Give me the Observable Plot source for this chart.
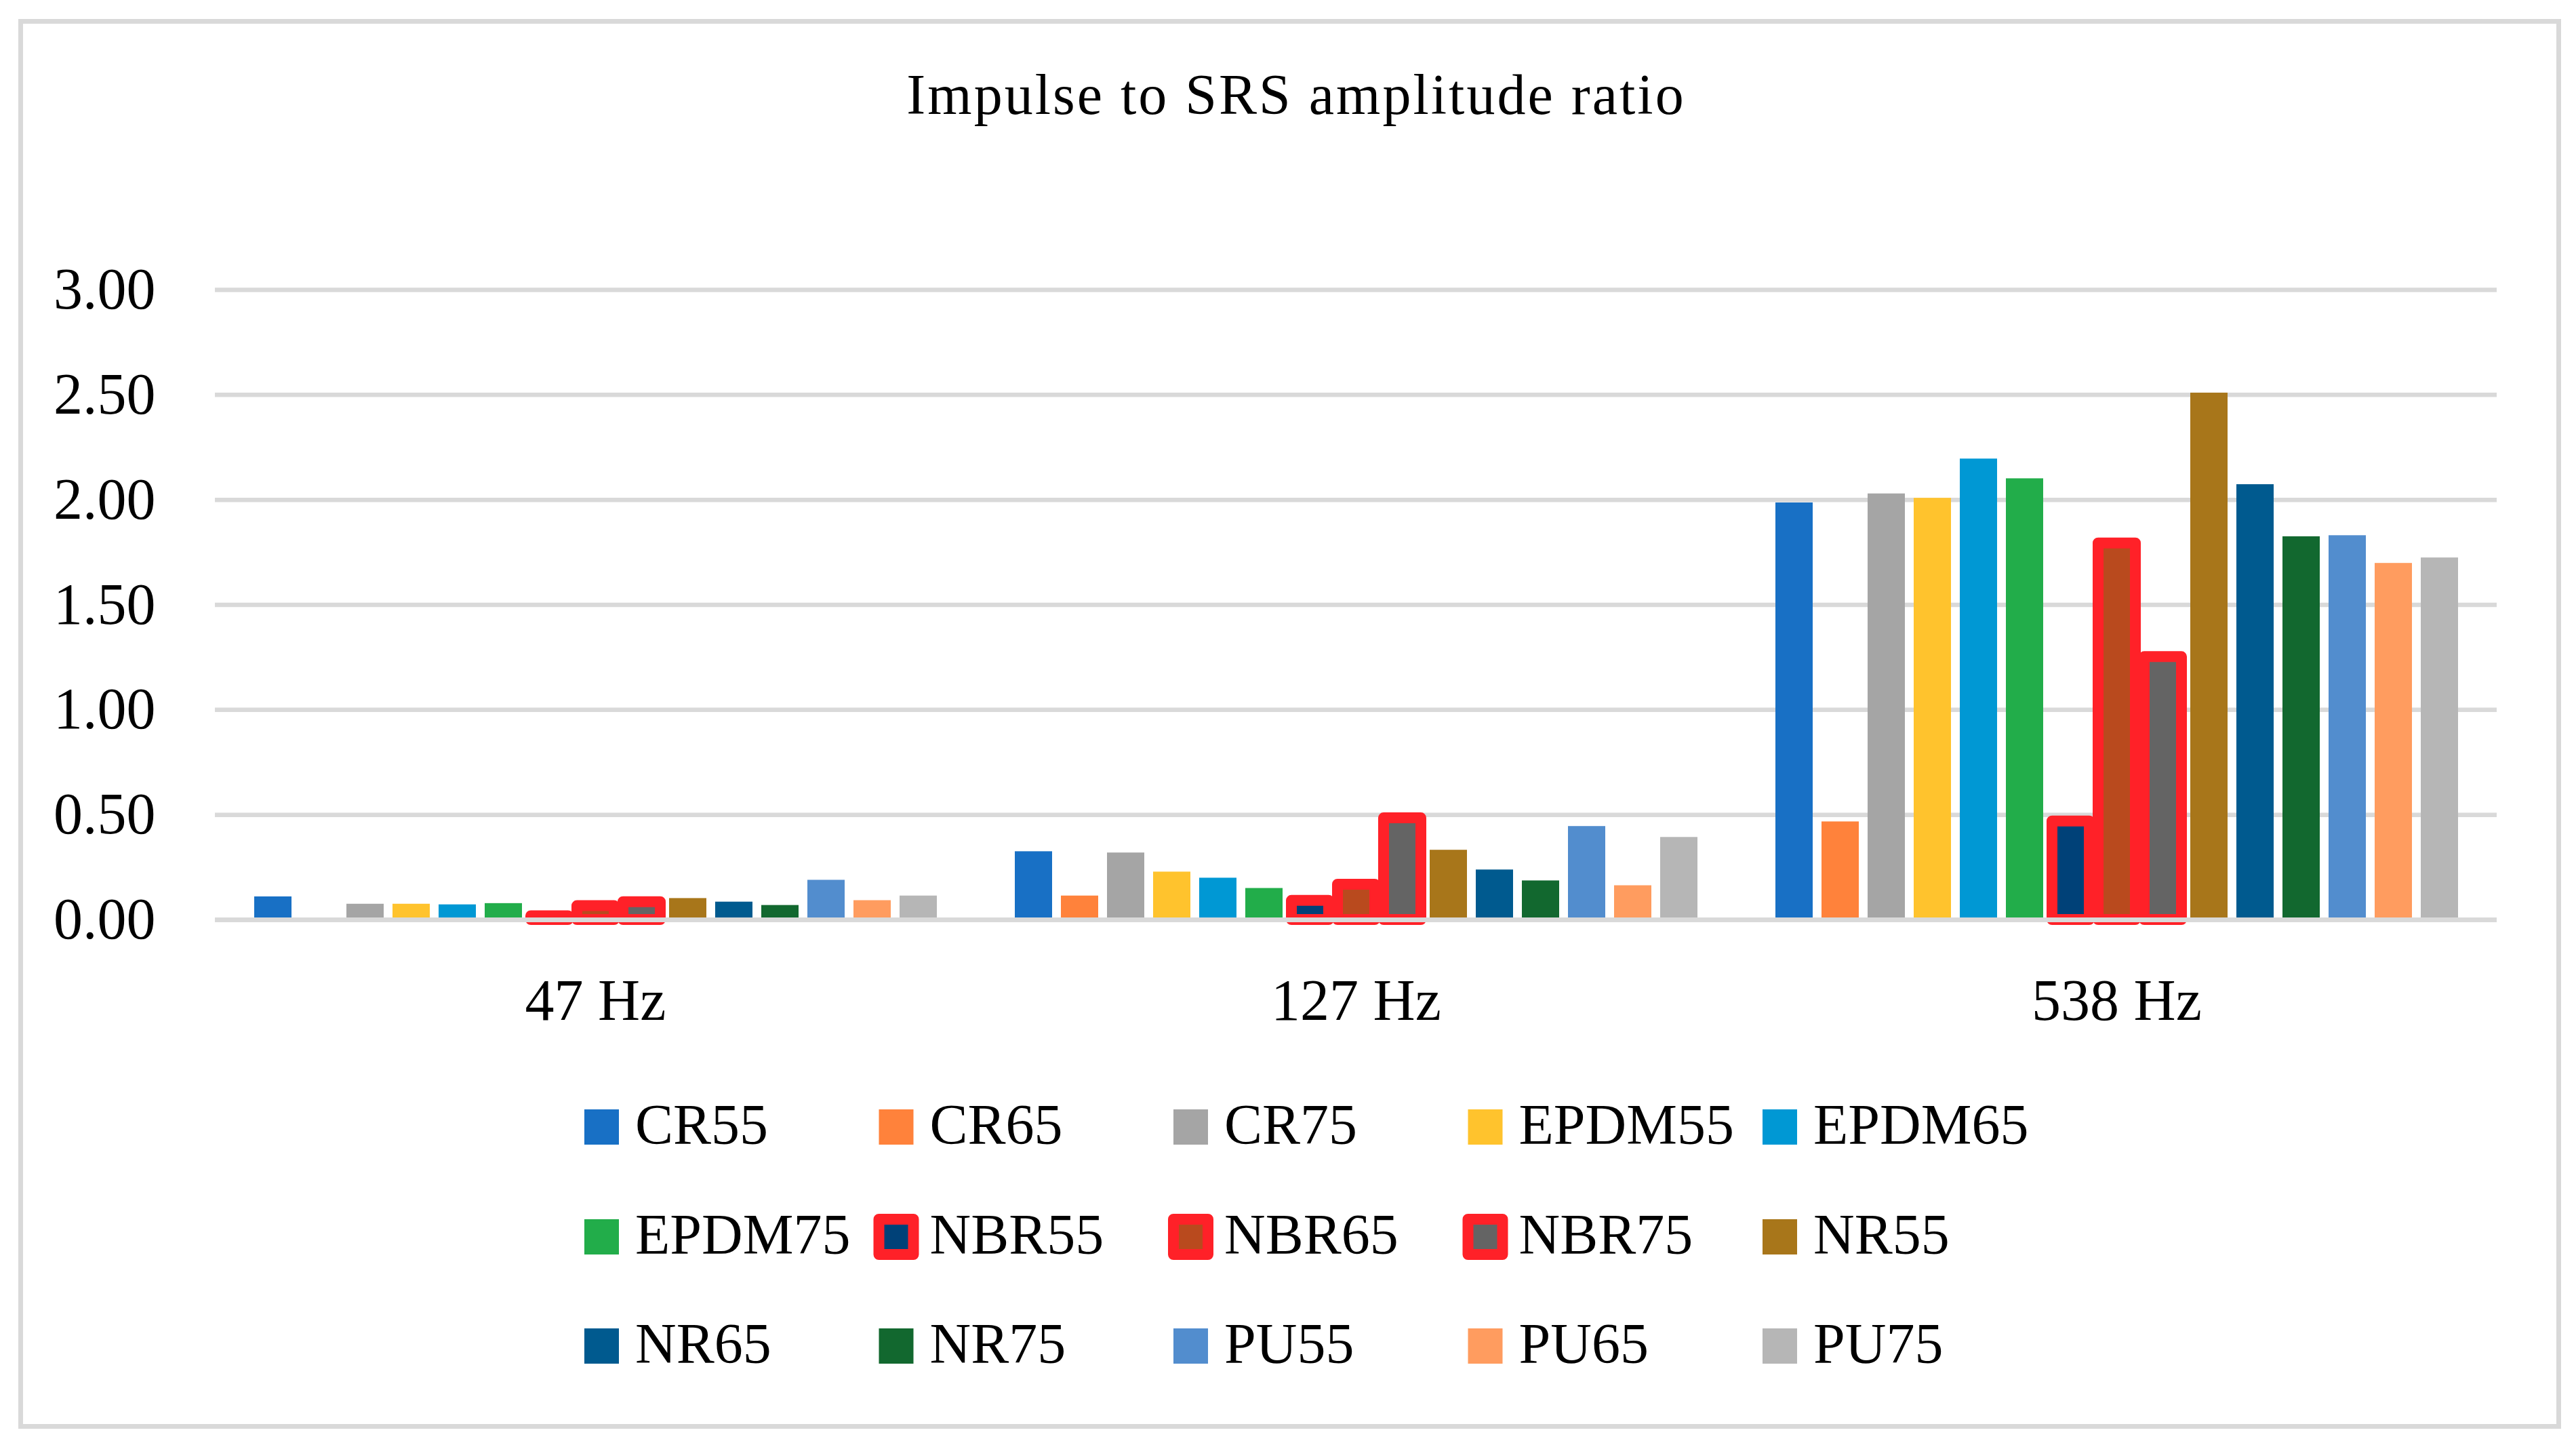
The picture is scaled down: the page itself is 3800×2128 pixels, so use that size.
<!DOCTYPE html>
<html>
<head>
<meta charset="utf-8">
<script src="https://cdn.jsdelivr.net/npm/d3@7"></script>
<script src="https://cdn.jsdelivr.net/npm/@observablehq/plot@0.6"></script>
<style>
  html, body { margin: 0; padding: 0; background: #fff; }
  #wrap { position: relative; width: 3800px; height: 2128px; background: #fff; overflow: hidden; }
  #frame { position: absolute; left: 27px; top: 28px; width: 3751px; height: 2079px; box-sizing: border-box; border: 7px solid #d9d9d9; }
  #chart svg, #overlay { position: absolute; left: 0; top: 0; }
</style>
</head>
<body>
<div id="wrap">
  <div id="frame"></div>
  <div id="chart"></div>
</div>
<script>
// ---- data ----
const title = "Impulse to SRS amplitude ratio";
const frequencies = ["47 Hz", "127 Hz", "538 Hz"];
const seriesNames = ["CR55", "CR65", "CR75", "EPDM55", "EPDM65", "EPDM75", "NBR55", "NBR65", "NBR75", "NR55", "NR65", "NR75", "PU55", "PU65", "PU75"];
const values47 = [0.110, 0.000, 0.075, 0.075, 0.072, 0.078, 0.018, 0.066, 0.085, 0.102, 0.085, 0.069, 0.189, 0.092, 0.114];
const values127 = [0.325, 0.114, 0.319, 0.228, 0.199, 0.150, 0.091, 0.168, 0.484, 0.332, 0.238, 0.186, 0.445, 0.163, 0.393];
const values538 = [1.986, 0.467, 2.029, 2.008, 2.195, 2.101, 0.469, 1.793, 1.252, 2.509, 2.073, 1.825, 1.830, 1.698, 1.724];
const seriesColors = ["#1870c5", "#ff823b", "#a5a5a5", "#ffc32d", "#0098d4", "#22ad4a", "#004178", "#b94a1e", "#646464", "#a8761a", "#005a8f", "#12682f", "#528dce", "#ff9c5f", "#b6b6b6"];
const highlighted = ["NBR55", "NBR65", "NBR75"];
const highlightStroke = "#ff2128";
const yTicks = [0, 0.5, 1, 1.5, 2, 2.5, 3];

// ---- table ----
const valueSets = [values47, values127, values538];
const rows = [];
frequencies.forEach((f, i) => {
  seriesNames.forEach((s, j) => rows.push({freq: f, series: s, value: valueSets[i][j]}));
});
const plainRows = rows.filter(d => !highlighted.includes(d.series));
const hiRows = rows.filter(d => highlighted.includes(d.series));

const FONT = "'Liberation Serif', 'Times New Roman', serif";
const GRID = "#d9d9d9";

const chart = Plot.plot({
  width: 3800,
  height: 1560,
  marginLeft: 316,
  marginRight: 116,
  marginTop: 427,
  marginBottom: 204,
  style: {fontFamily: FONT, fontSize: "86px", color: "#000", background: "transparent", overflow: "visible"},
  fx: {domain: frequencies, padding: 0, label: null, tickSize: 0, tickPadding: 86},
  x: {domain: seriesNames, paddingInner: 0.197, paddingOuter: 0.792, axis: null},
  y: {domain: [0, 3], ticks: yTicks, tickFormat: d => d.toFixed(2), tickSize: 0, tickPadding: 88, label: null},
  color: {domain: seriesNames, range: seriesColors},
  marks: [
    Plot.ruleY(yTicks.filter(d => d > 0), {stroke: GRID, strokeWidth: 6.5}),
    Plot.barY(plainRows, {fx: "freq", x: "series", y: "value", fill: "series"}),
    Plot.barY(hiRows, {fx: "freq", x: "series", y: "value", fill: "series", stroke: highlightStroke, strokeWidth: 16, strokeLinejoin: "round"}),
    Plot.ruleY([0], {stroke: GRID, strokeWidth: 7})
  ]
});
document.getElementById("chart").appendChild(chart);

// ---- title & legend overlay ----
const color = d3.scaleOrdinal(seriesNames, seriesColors);
const overlay = d3.select("#wrap").append("svg")
  .attr("id", "overlay")
  .attr("width", 3800).attr("height", 2128)
  .style("font-family", FONT);

overlay.append("text")
  .attr("x", 1912).attr("y", 168)
  .attr("text-anchor", "middle")
  .attr("font-size", 84)
  .attr("letter-spacing", 3)
  .attr("fill", "#000")
  .text(title);

const colStep = 434.5, colX0 = 862, rowY = [1662, 1824, 1985];
const swW = 51, swH = 52;
seriesNames.forEach((s, i) => {
  const col = i % 5, row = Math.floor(i / 5);
  const x = colX0 + col * colStep, cy = rowY[row];
  const g = overlay.append("g");
  const r = g.append("rect")
    .attr("x", x).attr("y", cy - swH / 2)
    .attr("width", swW).attr("height", swH)
    .attr("fill", color(s));
  if (highlighted.includes(s)) {
    r.attr("stroke", highlightStroke).attr("stroke-width", 16).attr("stroke-linejoin", "round");
  }
  g.append("text")
    .attr("x", x + 75).attr("y", cy + 25)
    .attr("font-size", 84)
    .attr("fill", "#000")
    .text(s);
});
</script>
</body>
</html>
